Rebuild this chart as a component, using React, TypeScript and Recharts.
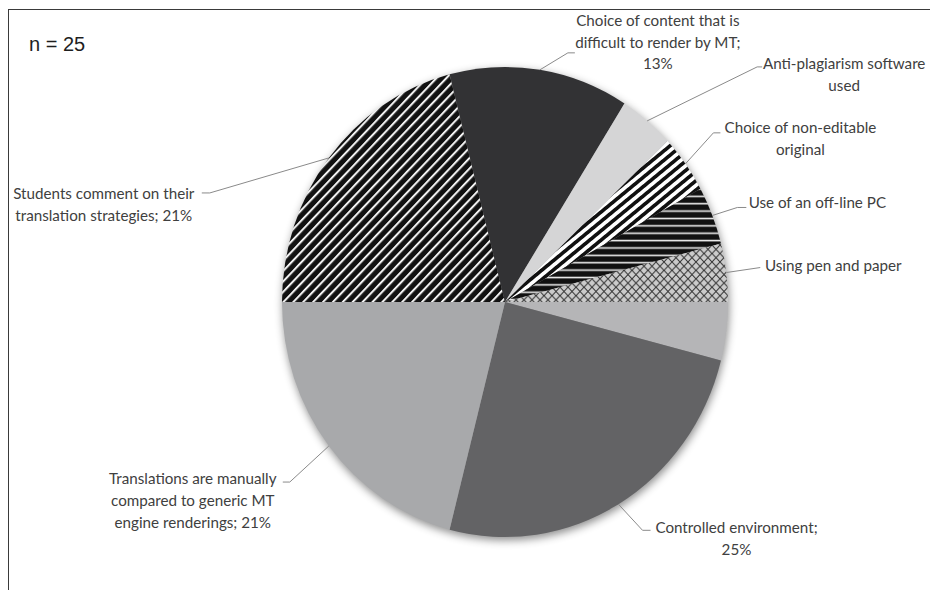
import { PieChart, Pie, Cell } from 'recharts'

// slices clockwise from 9 o'clock
const categories = [
  'Students comment on their translation strategies',
  'Choice of content that is difficult to render by MT',
  'Anti-plagiarism software used',
  'Choice of non-editable original',
  'Use of an off-line PC',
  'Using pen and paper',
  'Other',
  'Controlled environment',
  'Translations are manually compared to generic MT engine renderings',
]
const shares = [21, 13, 4, 4, 4, 4, 4, 25, 21]
const labelTexts = [
  ['Students comment on their', 'translation strategies; 21%'],
  ['Choice of content that is', 'difficult to render by MT;', '13%'],
  ['Anti-plagiarism software', 'used'],
  ['Choice of non-editable', 'original'],
  ['Use of an off-line PC'],
  ['Using pen and paper'],
  [],
  ['Controlled environment;', '25%'],
  ['Translations are manually', 'compared to generic MT', 'engine renderings; 21%'],
]

const sampleNote = 'n = 25'

const chartData = categories.map((name, i) => ({ name, value: shares[i] }))

const sliceFills = [
  'url(#diagThin)',
  '#323234',
  '#d5d5d6',
  'url(#diagBold)',
  'url(#horizLines)',
  'url(#crossHatch)',
  '#b5b5b7',
  '#636365',
  '#a8a9ab',
]

// leader layout, offsets from the slice's outer edge point:
// elbow dx/dy, short horizontal tick, text block centre (first line)
const labelLayout = [
  { ex: -119, ey: 35, tick: -8, tx: -225, ty: 35 },
  { ex: 28, ey: -17, tick: 7, tx: 118, ty: -50 },
  { ex: 110, ey: -54, tick: 5, tx: 197, ty: -58 },
  { ex: 28, ey: -31, tick: 7, tx: 115, ty: -37 },
  { ex: 25, ey: -8, tick: 9, tx: 105, ty: -13 },
  { ex: 34, ey: -5, tick: 0, tx: 107, ty: -8 },
  null,
  { ex: 24, ey: 26, tick: 8, tx: 118, ty: 23 },
  { ex: -39, ey: 36, tick: -7, tx: -136, ty: 32 },
]

const CX = 505
const CY = 302
const R = 223
const STRETCH = 1.054
const RAD = Math.PI / 180

const renderLabel = (props: any) => {
  const { cx, cy, midAngle, outerRadius, index } = props
  const lay = labelLayout[index]
  if (!lay) return null
  const x0 = cx + outerRadius * Math.cos(-midAngle * RAD)
  const y0 = cy + outerRadius * STRETCH * Math.sin(-midAngle * RAD)
  const x1 = x0 + lay.ex
  const y1 = y0 + lay.ey
  const x2 = x1 + lay.tick
  return (
    <g>
      <polyline
        points={`${x0},${y0} ${x1},${y1} ${x2},${y1}`}
        fill="none"
        stroke="#8a8a8a"
        strokeWidth={1}
      />
      <text
        x={x0 + lay.tx}
        y={y0 + lay.ty}
        textAnchor="middle"
        dominantBaseline="central"
        fontFamily="Lato, sans-serif"
        fontSize={15.2}
        fill="#404040"
      >
        {labelTexts[index].map((line, i) => (
          <tspan key={i} x={x0 + lay.tx} dy={i === 0 ? 0 : 21.8}>
            {line}
          </tspan>
        ))}
      </text>
    </g>
  )
}

export default function App() {
  return (
    <div style={{ position: 'absolute', left: 0, top: 0, width: 930, height: 590, background: '#fff' }}>
      <style>{`
        g:has(> .recharts-pie-sector) {
          transform: scaleY(${STRETCH});
          transform-origin: ${CX}px ${CY}px;
          filter: drop-shadow(1px 3px 4px rgba(0,0,0,0.45));
        }
      `}</style>
      <div
        style={{
          position: 'absolute',
          left: 8,
          top: 9,
          width: 922,
          height: 581,
          borderLeft: '1.5px solid #3a3a3a',
          borderTop: '1.5px solid #3a3a3a',
        }}
      />
      <div
        style={{
          position: 'absolute',
          left: 29,
          top: 33,
          fontFamily: '"Liberation Sans", Arial, sans-serif',
          fontSize: 20,
          color: '#1e1e1e',
        }}
      >
        {sampleNote}
      </div>
      <div style={{ position: 'absolute', left: 0, top: 0 }}>
        <PieChart width={930} height={590} margin={{ top: 0, right: 0, bottom: 0, left: 0 }}>
          <defs>
            <pattern id="diagThin" width={7} height={7} patternUnits="userSpaceOnUse" patternTransform="rotate(45)">
              <rect width={7} height={7} fill="#111" />
              <rect width={2} height={7} fill="#f2f2f2" />
            </pattern>
            <pattern id="diagBold" width={7} height={7} patternUnits="userSpaceOnUse" patternTransform="rotate(52)">
              <rect width={7} height={7} fill="#fff" />
              <rect width={3.5} height={7} fill="#111" />
            </pattern>
            <pattern id="horizLines" width={7} height={7} patternUnits="userSpaceOnUse">
              <rect width={7} height={7} fill="#111" />
              <rect y={5} width={7} height={1.5} fill="#f0f0f0" />
            </pattern>
            <pattern id="crossHatch" width={8} height={8} patternUnits="userSpaceOnUse">
              <rect width={8} height={8} fill="#cbcbcb" />
              <path d="M0,0 L8,8 M8,0 L0,8" stroke="#333" strokeWidth={1} />
            </pattern>
          </defs>
          <Pie
            className="main-pie"
            data={chartData}
            dataKey="value"
            nameKey="name"
            cx={CX}
            cy={CY}
            outerRadius={R}
            startAngle={180}
            endAngle={-180}
            stroke="none"
            label={renderLabel}
            labelLine={false}
            isAnimationActive={false}
          >
            {chartData.map((d, i) => (
              <Cell key={d.name} fill={sliceFills[i]} />
            ))}
          </Pie>
        </PieChart>
      </div>
    </div>
  )
}
